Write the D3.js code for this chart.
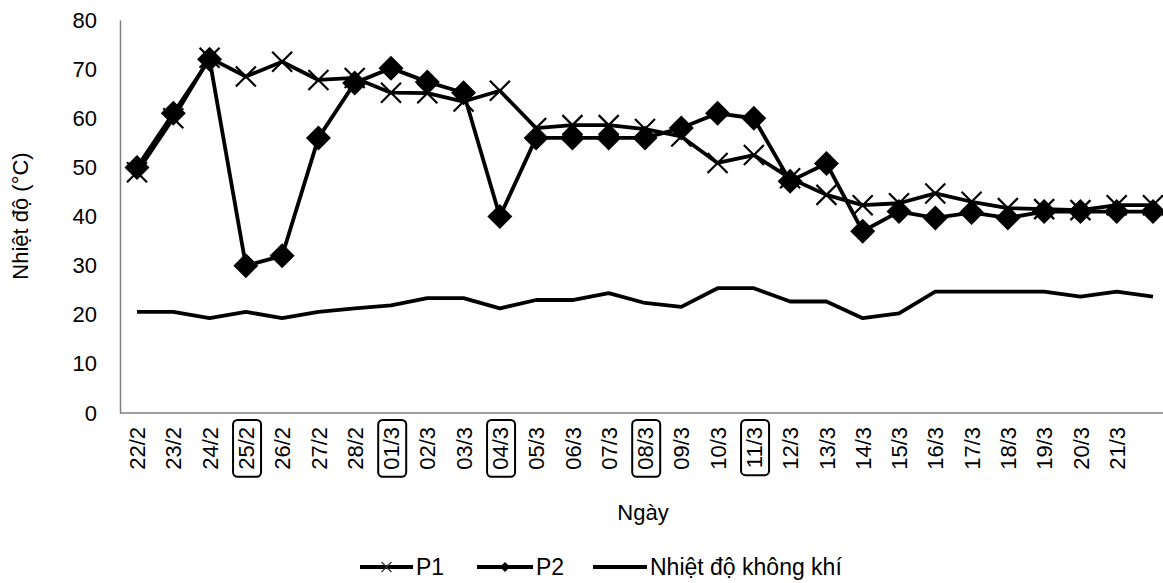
<!DOCTYPE html>
<html>
<head>
<meta charset="utf-8">
<script src="https://cdn.jsdelivr.net/npm/d3@7"></script>
<style>
body{margin:0;background:#fff;}
text{font-family:"Liberation Sans",Arial,sans-serif;fill:#000;}
</style>
</head>
<body>
<script>
var days = ["22/2","23/2","24/2","25/2","26/2","27/2","28/2","01/3","02/3","03/3","04/3","05/3","06/3","07/3",
  "08/3","09/3","10/3","11/3","12/3","13/3","14/3","15/3","16/3","17/3","18/3","19/3","20/3","21/3","22/3"];
var hiddenDays = ["22/3"];
var boxedDays = ["25/2","01/3","04/3","08/3","11/3"];
var p1 = [49,60,72.3,68.5,71.5,67.8,68.2,65.2,65.1,63.4,65.6,58,58.6,58.6,57.8,56.3,50.9,52.5,47.8,44.4,42.3,42.7,44.7,43,41.7,41.5,41.3,42.3,42.3];
var p2 = [50,61,72,30,32,56,67.2,70.2,67.4,65.2,40,56,56,56,56,58,61,60,47.2,50.8,37,41,39.7,40.8,39.7,41,41,41,41];
var air = [20.6,20.6,19.3,20.6,19.3,20.6,21.3,21.9,23.4,23.4,21.3,23,23,24.4,22.4,21.6,25.4,25.4,22.7,22.7,19.3,20.3,24.7,24.7,24.7,24.7,23.7,24.7,23.7];
var yTicks = [0,10,20,30,40,50,60,70,80];
var seriesNames = ["P1","P2","Nhiệt độ không khí"];

var W = 1163, H = 583;
var fs = 22;
var svg = d3.select("body").append("svg").attr("width",W).attr("height",H);

var x = d3.scalePoint().domain(days).range([137,1153]);
var y = d3.scaleLinear().domain([0,80]).range([413,20]);

// y axis
var yAxis = d3.axisLeft(y).tickValues(yTicks).tickSize(0).tickSizeOuter(0).tickPadding(23);
var gy = svg.append("g").attr("transform","translate(120,0)").call(yAxis);
gy.select(".domain").attr("stroke","#808080").attr("stroke-width",1.5);
gy.selectAll("text").attr("font-size",fs).style("font-family","Liberation Sans, Arial, sans-serif").attr("fill","#000");

// x axis
svg.append("line")
  .attr("x1",120).attr("x2",W).attr("y1",y(0)).attr("y2",y(0))
  .attr("stroke","#808080").attr("stroke-width",1.5);

var xAxis = d3.axisBottom(x).tickSize(0)
  .tickFormat(function(d){ return hiddenDays.indexOf(d) >= 0 ? "" : d; });
var gx = svg.append("g").attr("transform","translate(0,"+y(0)+")").call(xAxis);
gx.select(".domain").remove();
gx.selectAll("text")
  .attr("font-size",fs).style("font-family","Liberation Sans, Arial, sans-serif").attr("fill","#000")
  .attr("transform","rotate(-90)")
  .attr("x",-14).attr("y",0).attr("dy","0.35em")
  .style("text-anchor","end");

// boxed dates
gx.selectAll(".tick").filter(function(d){ return boxedDays.indexOf(d) >= 0; })
  .each(function(){
    var t = d3.select(this).select("text");
    var b = t.node().getBBox();
    d3.select(this).insert("rect","text")
      .attr("transform","rotate(-90)")
      .attr("x",b.x-7).attr("y",b.y-1)
      .attr("width",b.width+14).attr("height",b.height+3)
      .attr("rx",4.5)
      .attr("fill","none").attr("stroke","#000").attr("stroke-width",2);
  });

// axis titles
svg.append("text")
  .attr("transform","translate(28,216) rotate(-90)")
  .attr("text-anchor","middle").attr("font-size",fs)
  .text("Nhiệt độ (°C)");

svg.append("text")
  .attr("x",643).attr("y",520)
  .attr("text-anchor","middle").attr("font-size",fs)
  .text("Ngày");

var line = d3.line()
  .x(function(d,i){ return x(days[i]); })
  .y(function(d){ return y(d); });

// air temperature
svg.append("path").datum(air)
  .attr("d",line).attr("fill","none")
  .attr("stroke","#000").attr("stroke-width",3.8).attr("stroke-linejoin","round");

// P1
svg.append("path").datum(p1)
  .attr("d",line).attr("fill","none")
  .attr("stroke","#000").attr("stroke-width",3.8).attr("stroke-linejoin","round");

var crossPath = function(s){ return "M"+(-s)+","+(-s)+"L"+s+","+s+"M"+(-s)+","+s+"L"+s+","+(-s); };
var diamondPath = function(s){ return "M0,"+(-s)+"L"+s+",0L0,"+s+"L"+(-s)+",0Z"; };

svg.selectAll("path.p1m")
  .data(p1)
  .enter().append("path")
    .attr("class","p1m")
    .attr("transform",function(d,i){ return "translate("+x(days[i])+","+y(d)+")"; })
    .attr("d",crossPath(10))
    .attr("stroke","#000").attr("stroke-width",2.2).attr("fill","none");

// P2
svg.append("path").datum(p2)
  .attr("d",line).attr("fill","none")
  .attr("stroke","#000").attr("stroke-width",3.8).attr("stroke-linejoin","round");

svg.selectAll("path.p2m")
  .data(p2)
  .enter().append("path")
    .attr("class","p2m")
    .attr("transform",function(d,i){ return "translate("+x(days[i])+","+y(d)+")"; })
    .attr("d",diamondPath(12.5))
    .attr("fill","#000");

// legend
var legY = 567;
var legend = [
  {name:seriesNames[0], x1:360, x2:413, mark:"cross"},
  {name:seriesNames[1], x1:477, x2:533, mark:"diamond"},
  {name:seriesNames[2], x1:593, x2:647, mark:"none"}
];
var lg = svg.selectAll("g.leg").data(legend).enter().append("g").attr("class","leg");
lg.append("line")
  .attr("x1",function(d){ return d.x1; }).attr("x2",function(d){ return d.x2; })
  .attr("y1",legY).attr("y2",legY)
  .attr("stroke","#000").attr("stroke-width",3.8);
lg.filter(function(d){ return d.mark=="cross"; }).append("path")
  .attr("transform",function(d){ return "translate("+(d.x1+d.x2)/2+","+legY+")"; })
  .attr("d",crossPath(5)).attr("stroke","#333").attr("stroke-width",1.2);
lg.filter(function(d){ return d.mark=="diamond"; }).append("path")
  .attr("transform",function(d){ return "translate("+(d.x1+d.x2)/2+","+legY+")"; })
  .attr("d",diamondPath(5)).attr("fill","#000");
lg.append("text")
  .attr("x",function(d){ return d.x2+3; }).attr("y",legY+8)
  .attr("font-size",23)
  .text(function(d){ return d.name; });
</script>
</body>
</html>
